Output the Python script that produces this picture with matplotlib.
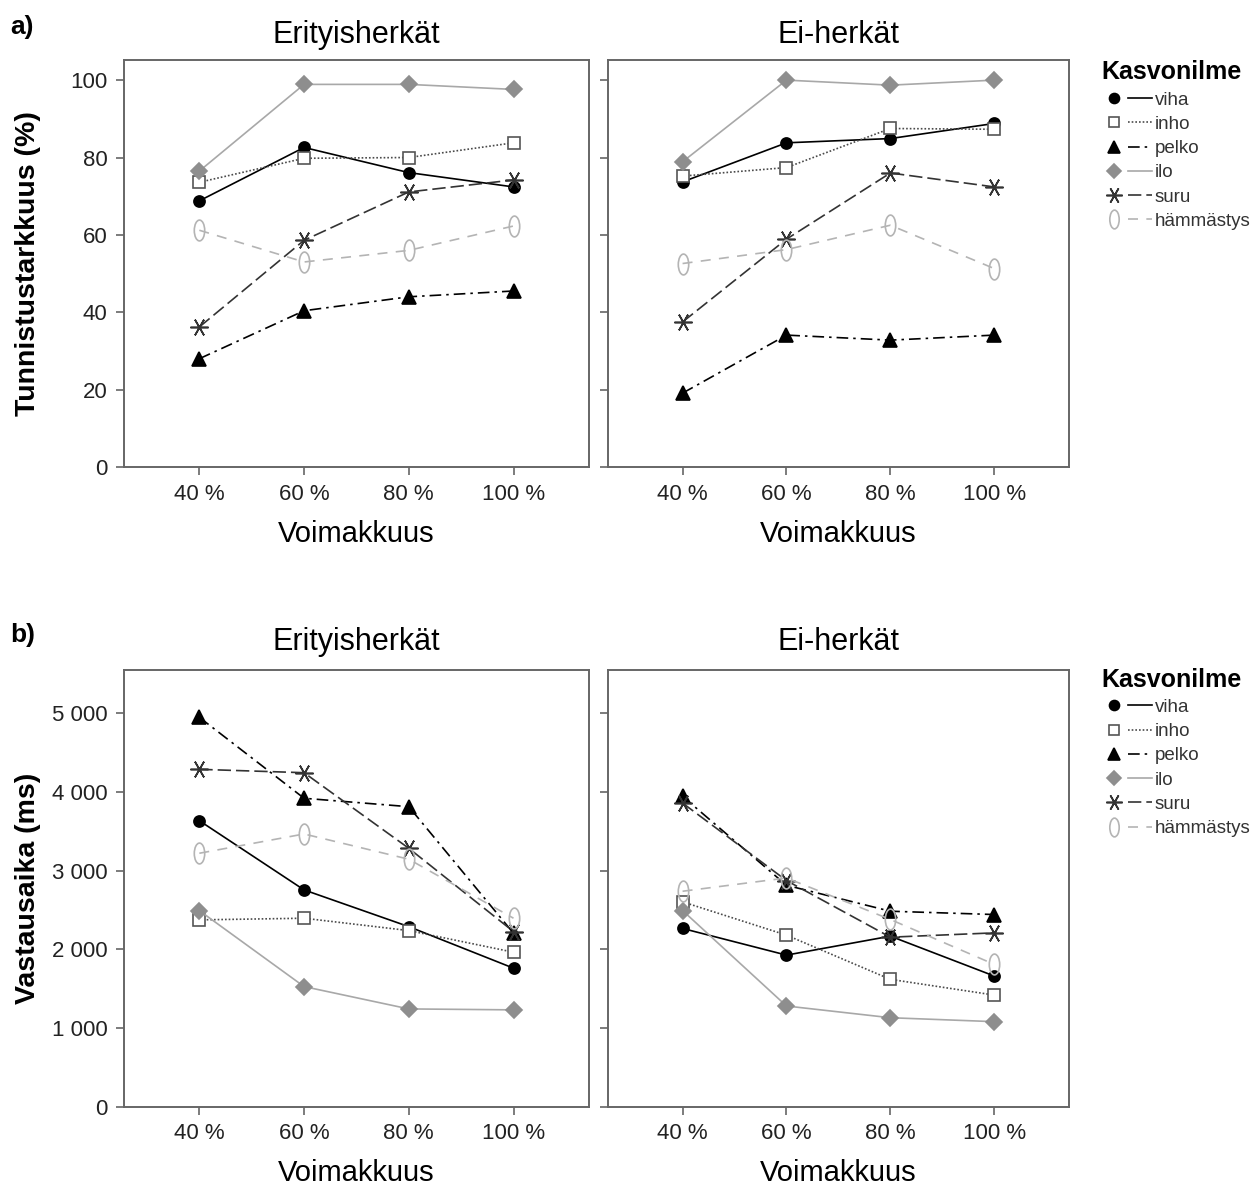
import matplotlib
matplotlib.use('Agg')
import matplotlib.pyplot as plt
from matplotlib.lines import Line2D
from matplotlib.legend_handler import HandlerTuple
from matplotlib.path import Path
from matplotlib.transforms import Affine2D

plt.rcParams['font.family'] = ['Liberation Sans', 'DejaVu Sans']

# categories
levels   = ['40 %', '60 %', '80 %', '100 %']
groups   = ['Erityisherkät', 'Ei-herkät']
emotions = ['viha', 'inho', 'pelko', 'ilo', 'suru', 'hämmästys']

# a) recognition accuracy (%), rows in emotion order
acc_eri = [[68.8, 82.6, 76.1, 72.4],
           [73.6, 79.8, 80.0, 83.8],
           [28.0, 40.4, 44.0, 45.5],
           [76.5, 98.9, 98.9, 97.6],
           [36.2, 58.6, 71.1, 74.2],
           [61.2, 53.0, 56.0, 62.3]]
acc_ei  = [[73.7, 83.8, 84.9, 88.8],
           [75.2, 77.4, 87.5, 87.3],
           [19.1, 34.1, 32.8, 34.1],
           [78.9, 100.0, 98.7, 100.0],
           [37.5, 58.9, 76.0, 72.4],
           [52.6, 56.2, 62.5, 51.3]]

# b) response time (ms)
rt_eri = [[3634, 2754, 2287, 1759],
          [2373, 2394, 2237, 1962],
          [4948, 3919, 3812, 2203],
          [2491, 1525, 1241, 1229],
          [4287, 4244, 3283, 2224],
          [3220, 3465, 3144, 2394]]
rt_ei  = [[2264, 1925, 2166, 1659],
          [2602, 2179, 1617, 1417],
          [3943, 2813, 2483, 2441],
          [2492, 1278, 1129, 1079],
          [3858, 2873, 2153, 2208],
          [2737, 2906, 2378, 1807]]

acc_ticks  = [0, 20, 40, 60, 80, 100]
acc_labels = ['0', '20', '40', '60', '80', '100']
rt_ticks   = [0, 1000, 2000, 3000, 4000, 5000]
rt_labels  = ['0', '1 000', '2 000', '3 000', '4 000', '5 000']

# styles
ellipse = Path.unit_circle().transformed(Affine2D().scale(0.5, 1.0))
styles = [
    dict(color='black', ls='-', marker='o', ms=8, mfc='black', mec='black'),
    dict(color='#4a4a4a', ls=(0, (1, 1.2)), marker='s', ms=8, mfc='white', mec='#555555'),
    dict(color='black', ls=(0, (7, 3, 1.5, 3)), marker='^', ms=10, mfc='black', mec='black'),
    dict(color='#a8a8a8', ls='-', marker='D', ms=8, mfc='#8e8e8e', mec='#8e8e8e'),
    dict(color='#333333', ls=(0, (8, 3)), marker=(6, 2, 90), ms=13, mfc='#333333', mec='#333333'),
    dict(color='#b4b4b4', ls=(0, (6, 5)), marker=ellipse, ms=15, mfc='none', mec='#b4b4b4'),
]

fig = plt.figure(figsize=(12.57, 11.86), dpi=100)

lefts   = [0.0986, 0.4835]
widths  = [0.3699, 0.3670]
rows = [(0.6062, 0.3432), (0.0670, 0.3681)]

panels = [[acc_eri, acc_ei], [rt_eri, rt_ei]]
ylims  = [(0, 105.2), (0, 5550)]
yticks = [(acc_ticks, acc_labels), (rt_ticks, rt_labels)]
ylabels = ['Tunnistustarkkuus (%)', 'Vastausaika (ms)']
title_pads = [12, 14.5]

x = list(range(len(levels)))
for r in range(2):
    for c in range(2):
        ax = fig.add_axes([lefts[c], rows[r][0], widths[c], rows[r][1]])
        data = panels[r][c]
        for i, emo in enumerate(emotions):
            st = styles[i]
            ax.plot(x, data[i], color=st['color'], ls=st['ls'], lw=1.2,
                    marker=st['marker'], ms=st['ms'], mfc=st['mfc'],
                    mec=st['mec'], mew=1.2, clip_on=False)
        ax.set_xlim(-0.72, 3.72)
        ax.set_ylim(*ylims[r])
        ax.set_xticks(x)
        ax.set_xticklabels(levels)
        ax.set_yticks(yticks[r][0])
        if c == 0:
            ax.set_yticklabels(yticks[r][1])
            ax.set_ylabel(ylabels[r], fontsize=20.5, fontweight='bold')
            ax.yaxis.set_label_coords(-0.178, 0.5)
        else:
            ax.set_yticklabels([])
        ax.set_xlabel('Voimakkuus', fontsize=21, labelpad=11)
        ax.set_title(groups[c], fontsize=22, pad=title_pads[r])
        for sp in ax.spines.values():
            sp.set_color('#666666')
            sp.set_linewidth(1.4)
        ax.tick_params(direction='out', length=6, width=1.2, color='#666666',
                       labelsize=16, pad=6, labelcolor='#222222')

# legends
handles = []
for st in styles:
    mk = Line2D([], [], ls='none', marker=st['marker'], ms=st['ms'] * 0.9,
                mfc=st['mfc'], mec=st['mec'], mew=1.2)
    ln = Line2D([], [], color=st['color'], ls=st['ls'], lw=1.2)
    handles.append((mk, ln))

for ytop in [0.957, 0.445]:
    leg = fig.legend(handles, emotions, loc='upper left',
                     bbox_to_anchor=(0.869, ytop), frameon=False,
                     handler_map={tuple: HandlerTuple(ndivide=None, pad=0.1)},
                     handlelength=2.7, handletextpad=0.12, labelspacing=0.38,
                     fontsize=13.5, labelcolor='#333333', borderpad=0,
                     title='Kasvonilme', alignment='left',
                     title_fontproperties={'size': 18, 'weight': 'bold'})

fig.text(0.008, 0.977, 'a)', fontsize=19, fontweight='bold', va='center')
fig.text(0.008, 0.465, 'b)', fontsize=19, fontweight='bold', va='center')

fig.savefig('out.png', dpi=100)
